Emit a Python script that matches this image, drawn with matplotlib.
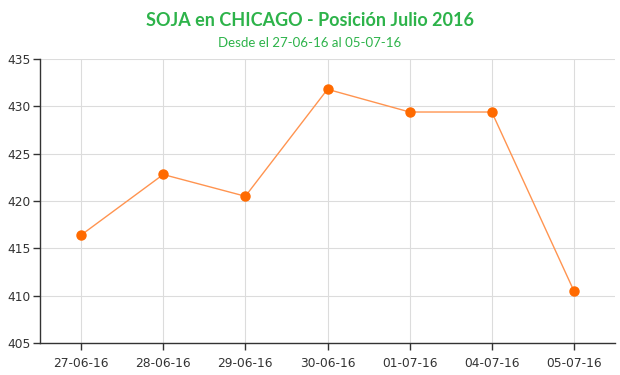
import matplotlib
matplotlib.use("Agg")
import matplotlib.pyplot as plt

dates = ["27-06-16", "28-06-16", "29-06-16", "30-06-16", "01-07-16", "04-07-16", "05-07-16"]
prices = [416.4, 422.8, 420.5, 431.8, 429.4, 429.4, 410.5]
yticks = [405, 410, 415, 420, 425, 430, 435]

fig = plt.figure(figsize=(6.2, 3.75), dpi=100)
ax = fig.add_axes([40/620, 1 - 343/375, (615-40)/620, (343-59)/375])

x = list(range(len(dates)))
ax.plot(x, prices, color="#ff9450", linewidth=1.0, zorder=3)
ax.plot(x, prices, linestyle="none", marker="o", markersize=6.5, color="#ff6a00", zorder=4)

ax.set_xlim(-0.5, len(dates) - 0.5)
ax.set_ylim(405, 435)
ax.set_xticks(x)
ax.set_xticklabels(dates)
ax.set_yticks(yticks)
ax.grid(True, color="#dcdcdc", linewidth=0.8)
ax.set_axisbelow(True)
for s in ["top", "right"]:
    ax.spines[s].set_visible(False)
for s in ["left", "bottom"]:
    ax.spines[s].set_color("#333333")
    ax.spines[s].set_linewidth(1.0)
ax.tick_params(axis="both", labelsize=8.8, colors="#333333", length=5, width=1, labelcolor="#333333")
ax.tick_params(axis="x", pad=5)
ax.tick_params(axis="y", pad=2)

fig.text(0.5, 1 - 21/375, "SOJA en CHICAGO - Posición Julio 2016", ha="center", va="center",
         fontsize=13, fontweight="bold", color="#2db34a", family="Lato")
fig.text(0.5, 1 - 43/375, "Desde el 27-06-16 al 05-07-16", ha="center", va="center",
         fontsize=9.5, color="#2db34a", family="Lato")

fig.savefig("out.png", dpi=100)
